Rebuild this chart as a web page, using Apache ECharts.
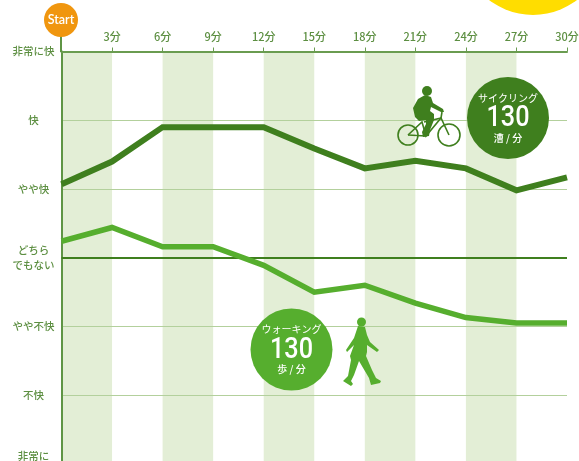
<!DOCTYPE html>
<html>
<head>
<meta charset="utf-8">
<script src="https://cdn.jsdelivr.net/npm/echarts@6/dist/echarts.min.js"></script>
<style>
  html, body { margin: 0; padding: 0; background: #fff; }
  #chart { width: 579px; height: 461px; }
</style>
</head>
<body>
<div id="chart"></div>
<script>
const minutes = [0, 3, 6, 9, 12, 15, 18, 21, 24, 27, 30]
const cycling = [1.07, 1.40, 1.90, 1.90, 1.90, 1.59, 1.30, 1.41, 1.30, 0.98, 1.17]
const walking = [0.24, 0.44, 0.16, 0.16, -0.11, -0.50, -0.40, -0.66, -0.87, -0.95, -0.95]
const feelLevels = [-3, -2, -1, 0, 1, 2, 3]
const feelLabels = ['非常に\n不快', '不快', 'やや不快', 'どちら\nでもない', 'やや快', '快', '非常に快']
const bandStarts = [0, 6, 12, 18, 24]
const bandEnds = [3, 9, 15, 21, 27]

const FONT = '"Noto Sans CJK JP", sans-serif'
const DARK = '#3f7f1e'
const LIGHT = '#56ae2e'
const TEXT = '#5d8f42'

const chart = echarts.init(document.getElementById('chart'))

// 吹き出しの丸とテキスト
function badge(cx, cy, color, top, unit) {
  return [
    { type: 'circle', shape: { cx: cx, cy: cy, r: 41 }, style: { fill: color } },
    { type: 'text', style: { x: cx, y: cy - 20, text: top, fill: '#fff', font: '10px ' + FONT, align: 'center', verticalAlign: 'middle' } },
    { type: 'text', x: cx, y: cy + 1, scaleX: 0.87, style: { x: 0, y: 0, text: '130', fill: '#fff', font: '500 29px Roboto', align: 'center', verticalAlign: 'middle' } },
    { type: 'text', style: { x: cx, y: cy + 20, text: unit, fill: '#fff', font: '500 10px ' + FONT, align: 'center', verticalAlign: 'middle' } }
  ]
}

// 自転車のシルエット
const cyclist = [
  { type: 'circle', shape: { cx: 408, cy: 135, r: 10 }, style: { fill: 'none', stroke: DARK, lineWidth: 1.6 } },
  { type: 'circle', shape: { cx: 449, cy: 135, r: 11 }, style: { fill: 'none', stroke: DARK, lineWidth: 1.6 } },
  { type: 'polyline', shape: { points: [[408, 135], [422, 122], [426, 136], [441, 118], [449, 135]] }, style: { fill: 'none', stroke: DARK, lineWidth: 1.6 } },
  { type: 'polyline', shape: { points: [[408, 135], [426, 136]] }, style: { fill: 'none', stroke: DARK, lineWidth: 1.6 } },
  { type: 'polyline', shape: { points: [[442, 112], [441, 118], [424, 122]] }, style: { fill: 'none', stroke: DARK, lineWidth: 1.6 } },
  { type: 'circle', shape: { cx: 427, cy: 91, r: 5 }, style: { fill: DARK } },
  { type: 'polygon', shape: { points: [[425, 95], [431, 97], [433, 103], [443, 109], [444, 112], [441, 112], [431, 107], [430, 111], [434, 114], [434, 120], [430, 130], [429, 136], [423, 137], [422, 132], [426, 124], [426, 120], [419, 121], [415, 117], [413, 108], [418, 99]] }, style: { fill: DARK } }
]

// 歩く人のシルエット
const walker = [
  { type: 'circle', shape: { cx: 361.5, cy: 322, r: 4.5 }, style: { fill: LIGHT } },
  { type: 'polygon', shape: { points: [[358, 326], [365, 327], [367, 335], [370, 342], [379, 350], [377, 352], [367, 345], [367, 352], [366, 356], [372, 370], [376, 378], [381, 381], [380, 383], [371, 385], [369, 378], [359, 361], [354, 375], [351, 381], [353, 384], [351, 386], [343, 381], [348, 376], [351, 360], [350, 356], [354, 345], [347, 352], [346, 350], [354, 338]] }, style: { fill: LIGHT } }
]

chart.setOption({
  animation: false,
  backgroundColor: '#fff',
  grid: { left: 61.5, top: 51.5, width: 505.5, height: 412.5, outerBoundsMode: 'none' },
  xAxis: {
    type: 'value',
    position: 'top',
    min: 0,
    max: 30,
    interval: 3,
    axisLine: { show: true, onZero: false, lineStyle: { color: '#6a9c50', width: 2 } },
    axisTick: { show: true, length: 4, lineStyle: { color: '#6a9c50', width: 1 } },
    axisLabel: {
      margin: 9,
      color: TEXT,
      fontFamily: FONT,
      fontWeight: 500,
      fontSize: 11,
      formatter: v => v === 0 ? '' : v + '分'
    },
    splitLine: { show: false }
  },
  yAxis: {
    type: 'value',
    min: -3,
    max: 3,
    interval: 1,
    axisLine: { show: true, onZero: false, lineStyle: { color: '#5f9545', width: 2 } },
    axisTick: { show: false },
    axisLabel: {
      margin: 28,
      align: 'center',
      color: TEXT,
      fontFamily: FONT,
      fontWeight: 500,
      fontSize: 10.5,
      lineHeight: 15,
      formatter: v => feelLabels[feelLevels.indexOf(v)]
    },
    splitLine: { show: true, lineStyle: { color: '#b3d09c', width: 1 } }
  },
  series: [
    {
      name: 'bands',
      type: 'line',
      data: [],
      silent: true,
      markArea: {
        silent: true,
        z: -1, // 軸線・グリッド線より下に敷く
        itemStyle: { color: '#e3eed6' },
        data: bandStarts.map((s, i) => [{ xAxis: s }, { xAxis: bandEnds[i] }])
      }
    },
    {
      name: 'サイクリング',
      type: 'line',
      data: minutes.map((m, i) => [m, cycling[i]]),
      symbol: 'none',
      z: 5,
      lineStyle: { color: DARK, width: 6, join: 'miter' },
      markLine: {
        silent: true,
        symbol: 'none',
        label: { show: false },
        lineStyle: { color: DARK, width: 2, type: 'solid' },
        data: [{ yAxis: 0 }]
      }
    },
    {
      name: 'ウォーキング',
      type: 'line',
      data: minutes.map((m, i) => [m, walking[i]]),
      symbol: 'none',
      z: 5,
      lineStyle: { color: LIGHT, width: 5.5, join: 'miter' }
    }
  ],
  graphic: {
    elements: [
      { type: 'circle', shape: { cx: 533, cy: -57, r: 72 }, style: { fill: '#ffdd00' } },
      { type: 'line', shape: { x1: 61, y1: 30, x2: 61, y2: 52 }, style: { stroke: '#5f9545', lineWidth: 2 } },
      { type: 'circle', shape: { cx: 61, cy: 20, r: 17 }, style: { fill: '#f0960f' } },
      { type: 'text', style: { x: 61, y: 20, text: 'Start', fill: '#fff', font: '600 12.5px Lato', align: 'center', verticalAlign: 'middle' } }
    ].concat(
      badge(508, 118, DARK, 'サイクリング', '漕 / 分'),
      badge(291.5, 349.5, LIGHT, 'ウォーキング', '歩 / 分'),
      cyclist,
      walker
    ).map(el => Object.assign({ z: 10 }, el))
  }
})
</script>
</body>
</html>
